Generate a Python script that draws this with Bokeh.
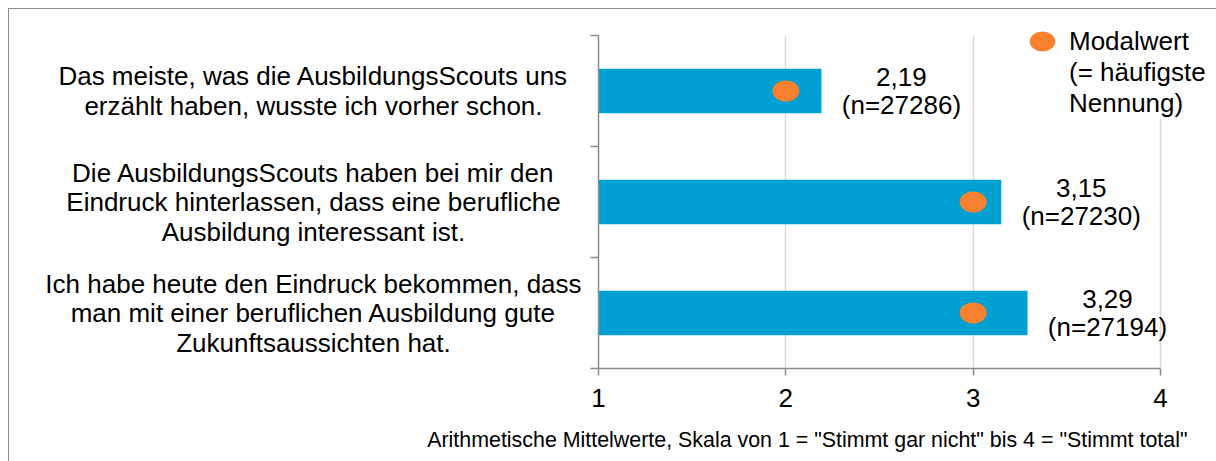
from bokeh.plotting import figure
from bokeh.layouts import row, column
from bokeh.models import (ColumnDataSource, Range1d, FixedTicker, LabelSet,
                          Legend, LegendItem, Title, Grid,
                          CustomJSTickFormatter)
from bokeh.core.properties import value
from bokeh.embed import file_html
from bokeh.resources import INLINE

# ---- data ----
statements = [
    "Das meiste, was die AusbildungsScouts uns\nerzählt haben, wusste ich vorher schon.",
    "Die AusbildungsScouts haben bei mir den\nEindruck hinterlassen, dass eine berufliche\nAusbildung interessant ist.",
    "Ich habe heute den Eindruck bekommen, dass\nman mit einer beruflichen Ausbildung gute\nZukunftsaussichten hat.",
]
means = [2.19, 3.15, 3.29]
modes = [2, 3, 3]
counts = [27286, 27230, 27194]
x_ticks = [1, 2, 3, 4]
scale_min = 1
scale_max = 4
legend_title = "Modalwert"
legend_note = "(= häufigste\nNennung)"
caption = 'Arithmetische Mittelwerte, Skala von 1 = "Stimmt gar nicht" bis 4 = "Stimmt total"'

# ---- style / layout ----
FONT = "Liberation Sans"
BAR = "#00a0d2"
ORANGE = "#f7812f"
AXIS = "#8c8c8c"
MAIN_H = 416
CAP_H = 36
TOP = 9             # canvas px above frame
BOTTOM = 57         # canvas px below frame
LEFT_W = 579
RIGHT_W = 628
AXIS_PX = 562       # pixel length of 1..4
FRAME_PX = RIGHT_W - 10
EXTRA_TOP_PX = 17   # frame room above first category for the legend
CAT_PX = 111
LINE_PX = 29.5

n_cat = len(statements)
pos = list(range(1, n_cat + 1))
src = ColumnDataSource(dict(
    pos=pos,
    mean=means,
    mode=modes,
    start=[scale_min] * n_cat,
    vtxt=[f"{m:.2f}".replace(".", ",") for m in means],
    ntxt=[f"(n={n})" for n in counts],
))

# one row per text line of each statement, centred on its category
l_pos, l_txt, l_dy = [], [], []
for i, s in enumerate(statements):
    parts = s.split("\n")
    k = len(parts)
    for j, t in enumerate(parts):
        l_pos.append(pos[i])
        l_txt.append(t)
        l_dy.append(((k - 1) / 2 - j) * LINE_PX)
lsrc = ColumnDataSource(dict(pos=l_pos, txt=l_txt, dy=l_dy))

y_top = 0.5 - EXTRA_TOP_PX / CAT_PX
yr = Range1d(n_cat + 0.5, y_top)

# ---------- left: statement labels ----------
pl = figure(width=LEFT_W, height=MAIN_H, x_range=Range1d(0, 1), y_range=yr,
            toolbar_location=None, output_backend="svg",
            x_axis_location=None, y_axis_location=None,
            min_border_left=0, min_border_right=0,
            min_border_top=TOP, min_border_bottom=BOTTOM)
pl.outline_line_color = None
pl.grid.visible = False
pl.add_layout(LabelSet(x=0.525, y="pos", y_offset="dy", text="txt",
                       source=lsrc, text_align="center",
                       text_baseline="middle", text_font=value(FONT),
                       text_font_size="26px", text_color="black"))

# ---------- right: bars ----------
x_end = scale_min + (scale_max - scale_min) * FRAME_PX / AXIS_PX
p = figure(width=RIGHT_W, height=MAIN_H,
           x_range=Range1d(scale_min, x_end), y_range=yr,
           toolbar_location=None, output_backend="svg",
           min_border_left=10, min_border_right=0,
           min_border_top=TOP, min_border_bottom=BOTTOM)
p.outline_line_color = None

p.ygrid.visible = False
p.xgrid.ticker = FixedTicker(ticks=x_ticks)
p.xgrid.grid_line_color = "#d9d9d9"
p.xgrid.grid_line_width = 1.5
if "cross_bounds" in Grid.properties():
    p.xgrid.cross_bounds = (0.5, n_cat + 0.5)

xa = p.xaxis[0]
xa.ticker = FixedTicker(ticks=x_ticks)
xa.bounds = (scale_min, scale_max)
xa.axis_line_color = AXIS
xa.axis_line_width = 1.5
xa.major_tick_line_color = AXIS
xa.major_tick_line_width = 1.5
xa.major_tick_out = 7
xa.major_tick_in = 0
xa.minor_tick_line_color = None
xa.major_label_text_font = FONT
xa.major_label_text_font_size = "26px"
xa.major_label_text_color = "black"
xa.major_label_standoff = 13

ya = p.yaxis[0]
ya.ticker = FixedTicker(ticks=[i + 0.5 for i in range(n_cat + 1)])
ya.bounds = (0.5, n_cat + 0.5)
ya.formatter = CustomJSTickFormatter(code="return ''")
ya.axis_line_color = AXIS
ya.axis_line_width = 1.5
ya.major_tick_line_color = AXIS
ya.major_tick_line_width = 1.5
ya.major_tick_out = 8
ya.major_tick_in = 0
ya.minor_tick_line_color = None
ya.major_label_standoff = 0

p.hbar(y="pos", left="start", right="mean", height=0.4, source=src,
       fill_color=BAR, line_color=None)

r_mode = p.ellipse(x="mode", y="pos", width=27, height=21,
                   width_units="screen", height_units="screen", source=src,
                   fill_color=ORANGE, line_color=None)
r_blank = p.ellipse(x="mode", y="pos", width=27, height=21,
                    width_units="screen", height_units="screen", source=src,
                    fill_alpha=0, line_alpha=0)

for col, dy in (("vtxt", 14), ("ntxt", -14)):
    p.add_layout(LabelSet(x="mean", y="pos", text=col, source=src,
                          x_offset=80, y_offset=dy, text_align="center",
                          text_baseline="middle", text_font=value(FONT),
                          text_font_size="26px", text_color="black"))

legend = Legend(items=[LegendItem(label=legend_title, renderers=[r_mode]),
                       LegendItem(label=legend_note, renderers=[r_blank])],
                location=(428, 249), glyph_width=32, glyph_height=32,
                label_standoff=11, label_text_font=FONT,
                label_text_font_size="26px", label_text_line_height=1.08,
                label_text_color="black",
                border_line_color=None, background_fill_color="white",
                background_fill_alpha=1, padding=4, margin=0, spacing=0)
p.add_layout(legend)

# ---------- caption strip ----------
cf = figure(width=LEFT_W + RIGHT_W, height=CAP_H, title=caption,
            toolbar_location=None, output_backend="svg",
            x_axis_location=None, y_axis_location=None,
            min_border_left=0, min_border_right=29,
            min_border_top=4, min_border_bottom=0)
cf.outline_line_color = None
cf.grid.visible = False
cf.title.align = "right"
cf.title.text_font = FONT
cf.title.text_font_size = "21.4px"
cf.title.text_font_style = "normal"
cf.title.text_color = "black"
if "standoff" in Title.properties():
    cf.title.standoff = 0

layout = column(row(pl, p), cf,
                styles={"margin-left": "8px", "margin-top": "8px",
                        "border-left": "1px solid #8c8c8c",
                        "border-top": "1px solid #8c8c8c"})
open("out.html", "w").write(file_html(layout, INLINE))
